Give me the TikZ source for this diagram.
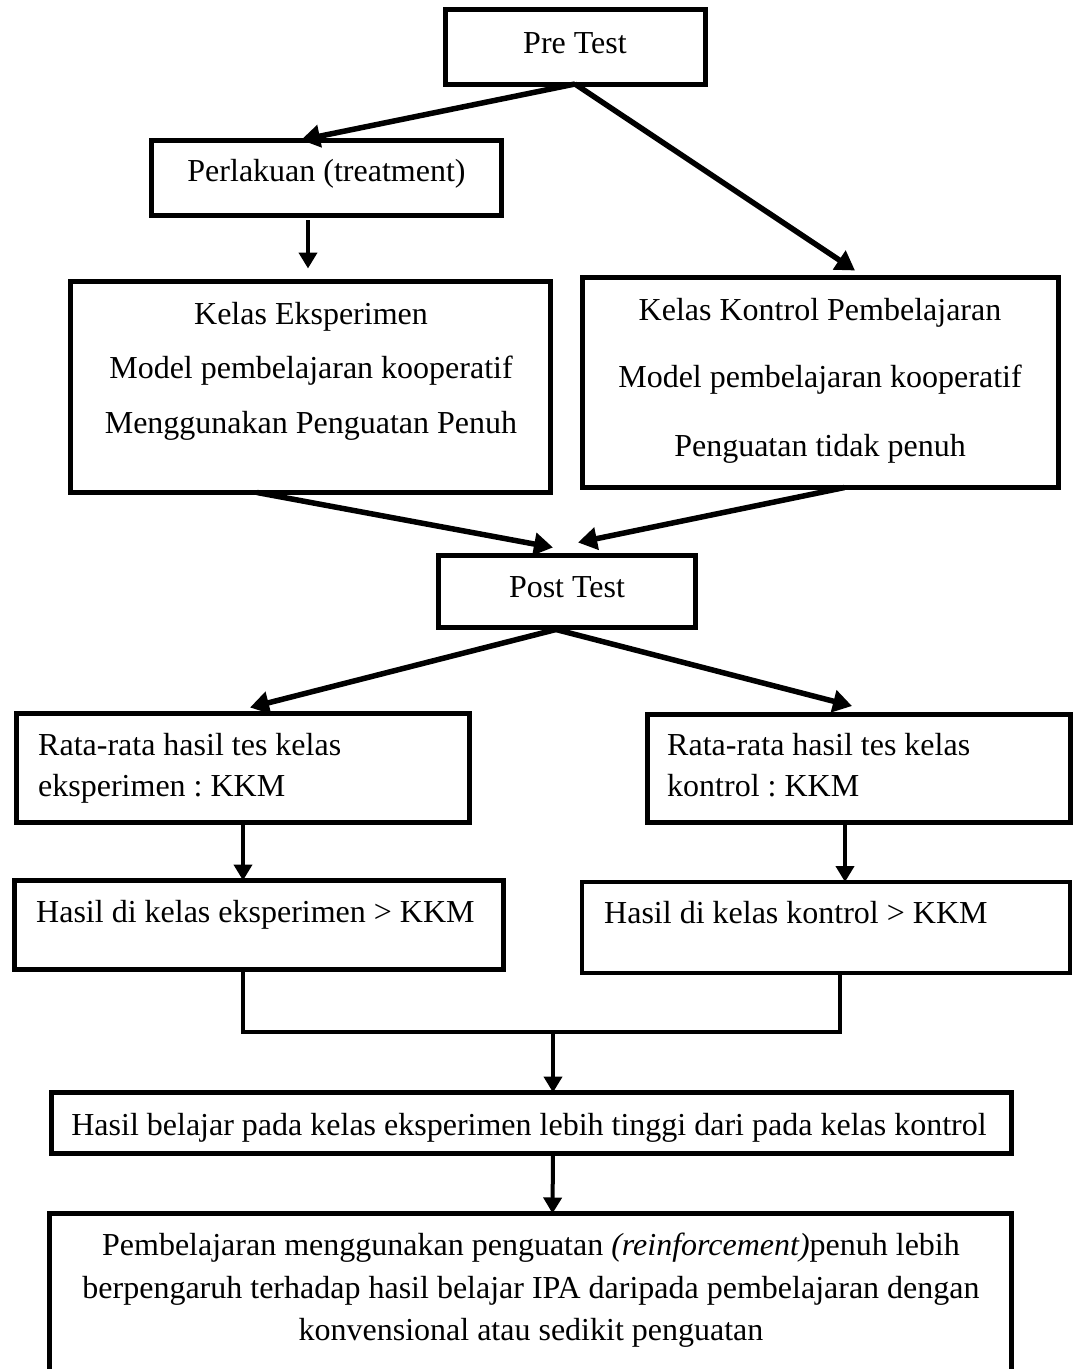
\documentclass[tikz,border=0pt]{standalone}
\usepackage{fontspec}
\setmainfont{Liberation Serif}
\usetikzlibrary{arrows.meta,calc}
\frenchspacing
\begin{document}
\begin{tikzpicture}[x=1pt,y=-1pt,
  box/.style={draw, line width=5pt, inner sep=0pt, outer sep=0pt, rectangle},
  txt/.style={inner sep=0pt, anchor=base, font=\fontsize{32}{38}\selectfont},
  ltxt/.style={txt, anchor=base west},
  arr/.style={line width=5.5pt, -{Triangle[length=19pt,width=22pt]}},
  arrs/.style={line width=4pt, -{Triangle[length=16pt,width=18pt]}},
  ln/.style={line width=4pt}]
\useasboundingbox (0,0) rectangle (1073,1369);
\clip (0,0) rectangle (1073,1369);
% boxes
\node[box, minimum width=260pt, minimum height=75pt] (pre) at (575,46.5) {};
\node[box, minimum width=350pt, minimum height=75pt] (perl) at (326,177.5) {};
\node[box, minimum width=480pt, minimum height=211pt] (eks) at (310.5,387) {};
\node[box, line width=4.5pt, minimum width=476pt, minimum height=210pt] (kon) at (820.5,382.5) {};
\node[box, minimum width=257pt, minimum height=72pt] (post) at (567,591.5) {};
\node[box, minimum width=453pt, minimum height=109pt] (rl) at (243,768) {};
\node[box, minimum width=423pt, minimum height=108pt] (rr) at (859,768) {};
\node[box, minimum width=489pt, minimum height=89pt] (hl) at (259,925) {};
\node[box, line width=3.5pt, minimum width=488pt, minimum height=91pt] (hr) at (826,927.5) {};
\node[box, minimum width=960pt, minimum height=61pt] (hb) at (531.5,1123) {};
\node[box, minimum width=962pt, minimum height=190pt] (pb) at (530.5,1308.5) {};
% texts
\node[txt] (tpre) at (575,53) {Pre Test};
\node[txt] (tperl) at (326.5,181) {Perlakuan (treatment)};
\node[txt] (teks1) at (311,324) {Kelas Eksperimen};
\node[txt] (teks2) at (311,378) {Model pembelajaran kooperatif};
\node[txt] (teks3) at (311,433) {Menggunakan Penguatan Penuh};
\node[txt] (tkon1) at (820,320) {Kelas Kontrol Pembelajaran};
\node[txt] (tkon2) at (820,387) {Model pembelajaran kooperatif};
\node[txt] (tkon3) at (820,456) {Penguatan tidak penuh};
\node[txt] (tpost) at (567,597) {Post Test};
\node[ltxt] (trl1) at (38,755) {Rata-rata hasil tes kelas};
\node[ltxt] (trl2) at (38,796) {eksperimen : KKM};
\node[ltxt] (trr1) at (667,755) {Rata-rata hasil tes kelas};
\node[ltxt] (trr2) at (667,796) {kontrol : KKM};
\node[ltxt] (thl) at (36,922) {Hasil di kelas eksperimen > KKM};
\node[ltxt] (thr) at (604,923) {Hasil di kelas kontrol > KKM};
\node[txt] (thb) at (529,1135) {Hasil belajar pada kelas eksperimen lebih tinggi dari pada kelas kontrol};
\node[txt] (tpb1) at (531,1255) {Pembelajaran menggunakan penguatan \textit{(reinforcement)}penuh lebih};
\node[txt] (tpb2) at (531,1298) {berpengaruh terhadap hasil belajar IPA daripada pembelajaran dengan};
\node[txt] (tpb3) at (531,1340) {konvensional atau sedikit penguatan};
% connectors
\draw[arr] (pre.south) -- ($(perl.north west)+(150,0)$);
\draw[arr] (pre.south) -- ($(kon.north west)+(272.5,-7)$);
\draw[arrs] ($(perl.south west)+(157,5)$) -- ($(eks.north west)+(237.5,-13)$);
\draw[arr] ($(eks.south west)+(186.5,0)$) -- ($(post.north west)+(114.5,-8)$);
\draw[arr] ($(kon.south west)+(262,0)$) -- ($(post.north west)+(139.5,-13)$);
\draw[arr] ($(post.south west)+(117.5,2)$) -- ($(rl.north west)+(233.5,-6)$);
\draw[arr] ($(post.south west)+(117.5,2)$) -- ($(rr.north west)+(204.5,-8)$);
\draw[arrs] (rl.south) -- ($(hl.north west)+(228.5,0)$);
\draw[arrs] ($(rr.south west)+(197.5,0)$) -- ($(hr.north west)+(263,0)$);
\coordinate (jn) at (553,1032);
\draw[ln] ($(hl.south west)+(228.5,0)$) |- (jn) -| ($(hr.south west)+(258,0)$);
\draw[arrs] (jn) -- ($(hb.north west)+(501.5,0)$);
\draw[arrs] ($(hb.south west)+(501.5,0)$) -- ($(pb.north west)+(503,0)$);
\end{tikzpicture}
\end{document}
